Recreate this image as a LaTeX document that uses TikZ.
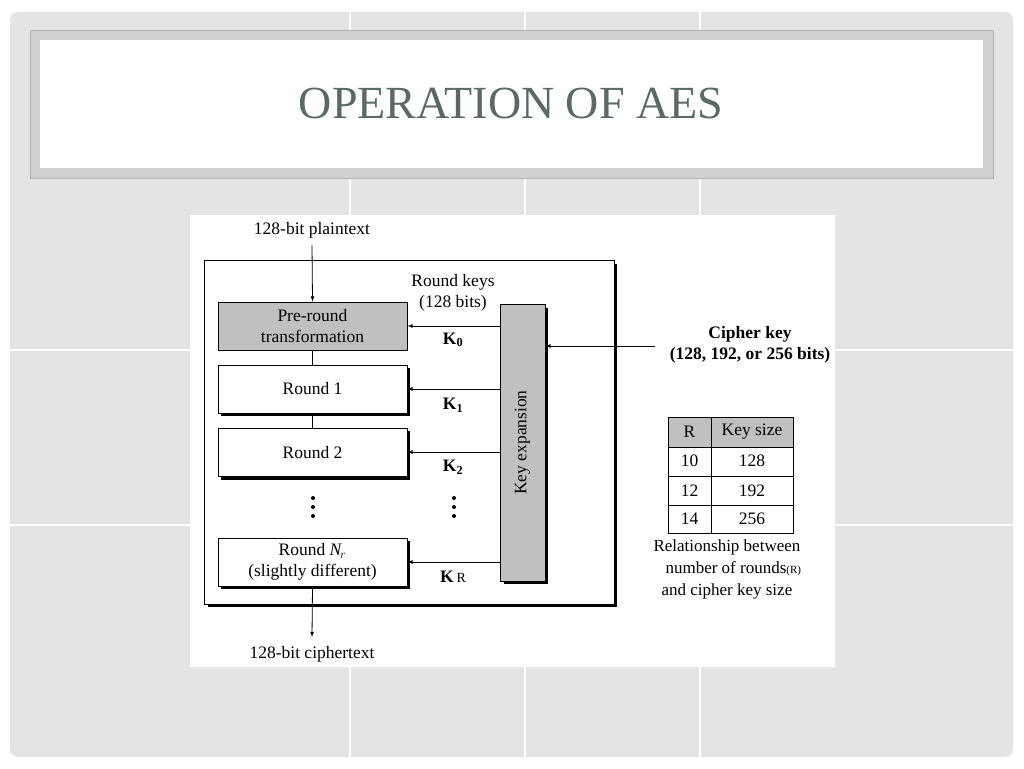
\documentclass[tikz,border=0pt]{standalone}
\usepackage{fontspec}
\setmainfont{Liberation Serif}
\definecolor{bgg}{RGB}{228,228,228}
\definecolor{tbord}{RGB}{208,208,208}
\definecolor{ttl}{RGB}{90,105,98}
\definecolor{boxg}{RGB}{192,192,192}
\begin{document}
\begin{tikzpicture}[x=1pt,y=-1pt,
  bx/.style={draw,line width=1pt,fill=white,minimum width=189pt,minimum height=48pt,align=center,inner sep=0pt,font=\fontsize{17.5}{21}\selectfont},
  lbl/.style={font=\fontsize{17.5}{21}\selectfont,align=center},
  dot/.style={circle,fill,inner sep=0pt,minimum size=4pt},
  arr/.style={-latex,line width=0.8pt}]
\useasboundingbox (0,0) rectangle (1024,768);
\fill[white] (0,0) rectangle (1024,768);
\fill[rounded corners=8pt,bgg] (10,12) rectangle (1013,757);
\foreach \x in {350,525,700} \draw[white,line width=1.2pt] (\x,12) -- (\x,757);
\foreach \y in {350,525} \draw[white,line width=1.2pt] (10,\y) -- (1013,\y);
\fill[tbord,draw={rgb,255:red,180;green,180;blue,180}] (30,30) rectangle (993,178);
\fill[white] (40,40) rectangle (983,168);
\node[font=\fontsize{46}{50}\selectfont,text=ttl] (title) at (511,103) {OPERATION OF AES};
\fill[white] (190,215) rectangle (835,667);
% outer box
\fill (208,264) rectangle (617,607);
\draw[line width=1pt,fill=white] (204,260) rectangle (614,604);
% shadows
\foreach \a/\b in {365/413,428/477,538/586} \fill (221,\a+3) rectangle (410,\b+3);
\node[bx,fill=boxg] (pre) at (312.5,326) {Pre-round\\transformation};
\node[bx] (r1) at (312.5,389) {Round 1};
\node[bx] (r2) at (312.5,452.5) {Round 2};
\node[bx] (rn) at (312.5,562) {Round \textit{N}$_{\!r}$\\(slightly different)};
\fill (504,308) rectangle (548,584);
\node[draw,line width=1pt,fill=boxg,minimum width=45pt,minimum height=277pt,inner sep=0pt] (ke) at (522.5,442.5) {};
\node[lbl,rotate=90] (ket) at (522.5,442.5) {Key expansion};
\draw (pre) -- (r1);
\draw (r1) -- (r2);
\foreach \x/\c in {313/a,454/b} \foreach \y/\i in {498/1,507/2,516/3} \node[dot] (d\c\i) at (\x,\y) {};
\node[lbl] (pt) at (312,230) {128-bit plaintext};
\node[lbl] (ct) at (312,654) {128-bit ciphertext};
\coordinate (pt0) at (312,245);
\draw[arr] (pt0) -- (pre.north);
\coordinate (ct0) at (312,637);
\draw[arr] (rn.south) -- (ct0);
\foreach \n/\y in {pre/326,r1/389,r2/452,rn/562}
  \draw[arr] (ke.west |- 0,\y) -- (\n.east |- 0,\y);
\node[lbl] (k0) at (453,340) {\textbf{K}\textsubscript{\textbf{0}}};
\node[lbl] (k1) at (453,405) {\textbf{K}\textsubscript{\textbf{1}}};
\node[lbl] (k2) at (453,467) {\textbf{K}\textsubscript{\textbf{2}}};
\node[lbl] (kr) at (453,577) {\textbf{K}\,{\fontsize{14}{14}\selectfont R}};
\node[lbl] (rk) at (453,293) {Round keys\\(128 bits)};
\coordinate (ck0) at (655,346);
\draw[arr] (ck0) -- (ke.east |- 0,346);
\node[lbl] (ck) at (750,345) {\textbf{Cipher key}\\\textbf{(128, 192, or 256 bits)}};
% table
\fill[boxg] (668,417) rectangle (793,447);
\draw[line width=1pt] (668,417) rectangle (793,533);
\foreach \y in {447,476,505} \draw[line width=1pt] (668,\y) -- (793,\y);
\draw[line width=1pt] (711,417) -- (711,533);
\foreach \y/\a/\b in {432/R/Key size,461/10/128,490.5/12/192,519/14/256}{
  \node[lbl] at (689.5,\y) {\a};
  \node[lbl] at (752,\y) {\b};}
\node[lbl,anchor=north west,align=left,font=\fontsize{17}{22}\selectfont] (cap) at (650,536) {Relationship between\\\hspace*{12pt}number of rounds{\fontsize{11}{11}\selectfont(R)}\\\hspace*{8pt}and cipher key size};
\end{tikzpicture}
\end{document}
